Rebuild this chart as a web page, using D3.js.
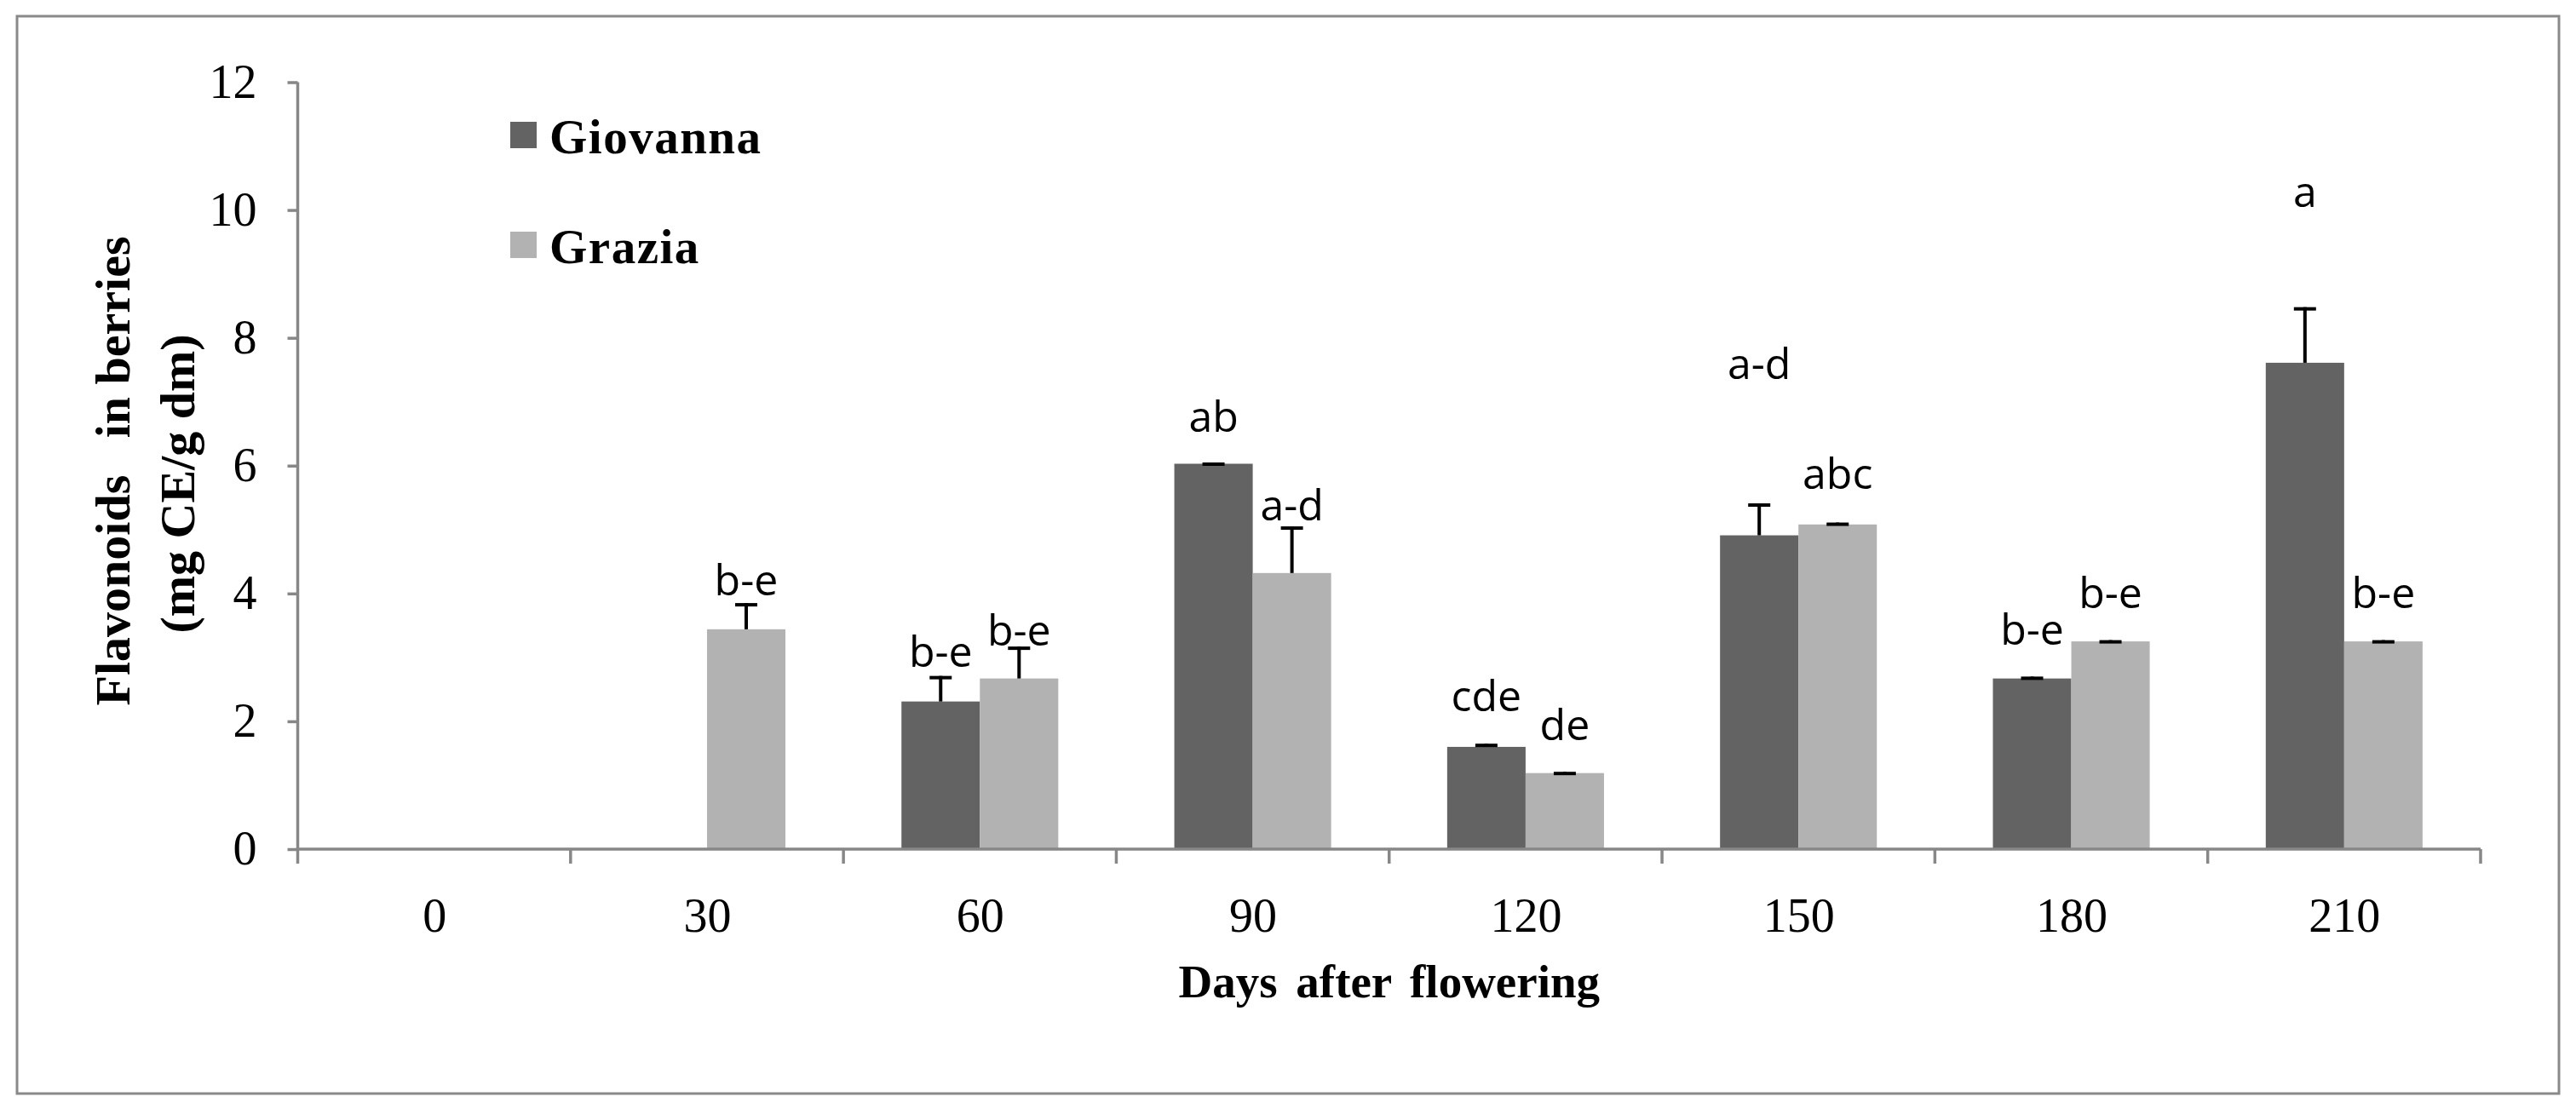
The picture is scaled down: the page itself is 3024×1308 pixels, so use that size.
<!DOCTYPE html>
<html>
<head>
<meta charset="utf-8">
<script src="https://cdn.jsdelivr.net/npm/d3@7"></script>
<style>
  body { margin: 0; background: #fff; }
  .serif { font-family: "Liberation Serif", "Times New Roman", serif; }
  .letters { font-family: "Open Sans", "Noto Sans", sans-serif; }
  .pre { white-space: pre; }
</style>
</head>
<body>
<div id="chart"></div>
<script>
// data
var days = ["0", "30", "60", "90", "120", "150", "180", "210"];
var seriesNames = ["Giovanna", "Grazia"];
var giovanna = [null, null, 2.31, 6.03, 1.60, 4.91, 2.67, 7.61];
var grazia = [null, 3.44, 2.67, 4.32, 1.19, 5.08, 3.25, 3.25];
var giovannaErr = [null, null, 0.40, 0.02, 0.05, 0.50, 0.03, 0.87];
var graziaErr = [null, 0.41, 0.50, 0.73, 0.02, 0.03, 0.02, 0.02];
var giovannaLetters = [null, null, "b-e", "ab", "cde", "a-d", "b-e", "a"];
var graziaLetters = [null, "b-e", "b-e", "a-d", "de", "abc", "b-e", "b-e"];
var giovannaLetterY = [null, null, 2.85, 6.53, 2.16, 7.35, 3.20, 10.05];
var graziaLetterY = [null, 3.97, 3.19, 5.15, 1.70, 5.64, 3.77, 3.77];
var yTicks = [0, 2, 4, 6, 8, 10, 12];

var width = 3024,
    height = 1308,
    plot = { left: 349.5, right: 2912, top: 96.5, bottom: 997 },
    colors = { Giovanna: "#636363", Grazia: "#b2b2b2" },
    axisColor = "#878787";

var rows = [];
days.forEach(function (d, i) {
    rows.push({ day: d, series: "Giovanna", value: giovanna[i], err: giovannaErr[i],
        letter: giovannaLetters[i], letterY: giovannaLetterY[i] });
    rows.push({ day: d, series: "Grazia", value: grazia[i], err: graziaErr[i],
        letter: graziaLetters[i], letterY: graziaLetterY[i] });
});
var shown = rows.filter(function (r) { return r.value != null; });

var x0 = d3.scaleBand().domain(days).range([plot.left, plot.right]).padding(0);
var x1 = d3.scaleBand().domain(seriesNames).range([0, x0.bandwidth()])
    .paddingInner(0).paddingOuter(0.74);
var y = d3.scaleLinear().domain([0, 12]).range([plot.bottom, plot.top]);

function barX(r) { return x0(r.day) + x1(r.series); }
function barMid(r) { return barX(r) + x1.bandwidth() / 2; }

var svg = d3.select("#chart").append("svg")
    .attr("width", width).attr("height", height);

svg.append("rect")
    .attr("x", 0).attr("y", 0).attr("width", width).attr("height", height)
    .attr("fill", "#fff");

// outer frame
svg.append("rect")
    .attr("x", 20).attr("y", 19).attr("width", 2984).attr("height", 1265)
    .attr("fill", "none").attr("stroke", "#898989").attr("stroke-width", 3);

// bars
svg.append("g").selectAll("rect").data(shown).enter().append("rect")
    .attr("x", barX)
    .attr("y", function (r) { return y(r.value); })
    .attr("width", x1.bandwidth())
    .attr("height", function (r) { return y(0) - y(r.value); })
    .attr("fill", function (r) { return colors[r.series]; });

// error bars (upper half only)
var eb = svg.append("g").attr("stroke", "#000").attr("stroke-width", 4);
eb.selectAll("line.v").data(shown).enter().append("line")
    .attr("class", "v")
    .attr("x1", barMid).attr("x2", barMid)
    .attr("y1", function (r) { return y(r.value); })
    .attr("y2", function (r) { return y(r.value + r.err); });
eb.selectAll("line.cap").data(shown).enter().append("line")
    .attr("class", "cap")
    .attr("x1", function (r) { return barMid(r) - 13; })
    .attr("x2", function (r) { return barMid(r) + 13; })
    .attr("y1", function (r) { return y(r.value + r.err) + 2; })
    .attr("y2", function (r) { return y(r.value + r.err) + 2; });

// significance letters
svg.append("g").attr("class", "letters").selectAll("text").data(shown).enter().append("text")
    .attr("x", barMid)
    .attr("y", function (r) { return y(r.letterY); })
    .attr("text-anchor", "middle")
    .attr("font-size", 50)
    .attr("fill", "#000")
    .text(function (r) { return r.letter; });

// y axis
var gy = svg.append("g").attr("class", "serif")
    .attr("transform", "translate(" + plot.left + ",0)")
    .call(d3.axisLeft(y).tickValues(yTicks).tickSize(12).tickPadding(36).tickSizeOuter(0));
gy.select(".domain").remove();
gy.selectAll(".tick line").attr("stroke", axisColor).attr("stroke-width", 3.5);
gy.selectAll(".tick text").attr("font-size", 56).attr("fill", "#000")
    .attr("font-family", "Liberation Serif, Times New Roman, serif");
svg.append("line")
    .attr("x1", plot.left).attr("x2", plot.left)
    .attr("y1", plot.top).attr("y2", plot.bottom + 17)
    .attr("stroke", axisColor).attr("stroke-width", 3.5);

// x axis: labels at band centres, ticks at band edges
var xLabels = d3.scalePoint().domain(days)
    .range([plot.left + x0.bandwidth() / 2, plot.right - x0.bandwidth() / 2]);
var gx = svg.append("g")
    .attr("transform", "translate(0," + plot.bottom + ")")
    .call(d3.axisBottom(xLabels).tickSize(0).tickPadding(57));
gx.select(".domain").remove();
gx.selectAll(".tick text").attr("font-size", 56).attr("fill", "#000")
    .attr("font-family", "Liberation Serif, Times New Roman, serif");
svg.append("line")
    .attr("x1", plot.left).attr("x2", plot.right)
    .attr("y1", plot.bottom).attr("y2", plot.bottom)
    .attr("stroke", axisColor).attr("stroke-width", 3.5);
var edges = days.map(function (d) { return x0(d); }).concat([plot.right]);
svg.append("g").selectAll("line").data(edges.slice(1)).enter().append("line")
    .attr("x1", function (d) { return d; }).attr("x2", function (d) { return d; })
    .attr("y1", plot.bottom).attr("y2", plot.bottom + 17)
    .attr("stroke", axisColor).attr("stroke-width", 3.5);

// axis titles
svg.append("text").attr("class", "serif")
    .attr("x", (plot.left + plot.right) / 2).attr("y", 1171)
    .attr("text-anchor", "middle").attr("font-size", 55).attr("font-weight", "bold")
    .attr("word-spacing", 8)
    .text("Days after flowering");

var yTitle = svg.append("g").attr("class", "serif")
    .attr("font-weight", "bold").attr("font-size", 58).attr("text-anchor", "middle");
yTitle.append("text").attr("class", "pre")
    .attr("transform", "translate(152,553) rotate(-90)")
    .text("Flavonoids   in berries");
yTitle.append("text")
    .attr("transform", "translate(228,568) rotate(-90)")
    .text("(mg CE/g dm)");

// legend
var legend = svg.append("g").attr("class", "serif");
var legendY = d3.scalePoint().domain(seriesNames).range([143, 272]);
seriesNames.forEach(function (s) {
    legend.append("rect")
        .attr("x", 599).attr("y", legendY(s))
        .attr("width", 31).attr("height", 31)
        .attr("fill", colors[s]);
    legend.append("text")
        .attr("x", 645).attr("y", legendY(s) + 37)
        .attr("font-size", 57).attr("font-weight", "bold")
        .attr("letter-spacing", 1.5)
        .text(s);
});
</script>
</body>
</html>
